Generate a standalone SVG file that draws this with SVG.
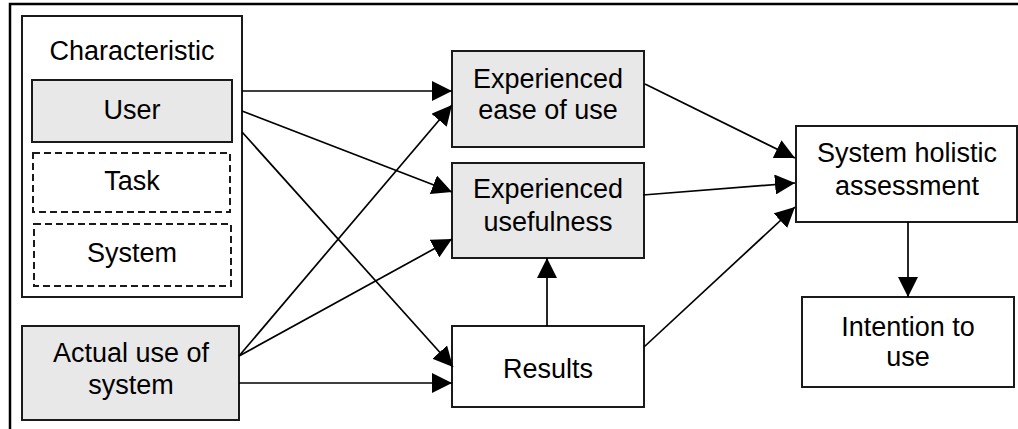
<svg xmlns="http://www.w3.org/2000/svg" width="1018" height="429" viewBox="0 0 1018 429">
  <defs>
    <style>
      .box { stroke: #1a1a1a; stroke-width: 2; fill: #ffffff; }
      .grey { fill: #e8e8e8; }
      .dash { stroke-dasharray: 7 4; fill: none; }
      .lbl { font-family: "Liberation Sans", Arial, sans-serif; font-size: 27px; fill: #000; text-anchor: middle; }
      .edge { stroke: #000; stroke-width: 1.7; fill: none; marker-end: url(#arrow); }
    </style>
    <marker id="arrow" markerUnits="userSpaceOnUse" markerWidth="20" markerHeight="20" refX="20" refY="10" orient="auto" viewBox="0 0 20 20">
      <path d="M0,0 L20,10 L0,20 z" fill="#000"/>
    </marker>
  </defs>
  <rect width="1018" height="429" fill="#ffffff"/>
  <rect x="10" y="4" width="1030" height="440" fill="none" stroke="#000" stroke-width="2.5"/>

  <g id="characteristic">
    <rect class="box" x="22" y="16" width="220" height="281"/>
    <text class="lbl" x="132" y="60">Characteristic</text>
  </g>
  <g id="user">
    <rect class="box grey" x="32" y="80" width="200" height="62"/>
    <text class="lbl" x="132" y="119">User</text>
  </g>
  <g id="task">
    <rect class="box dash" x="33" y="153" width="197" height="59"/>
    <text class="lbl" x="132" y="190">Task</text>
  </g>
  <g id="system">
    <rect class="box dash" x="34" y="224" width="197" height="62"/>
    <text class="lbl" x="132" y="262">System</text>
  </g>
  <g id="actual-use">
    <rect class="box grey" x="22" y="326" width="217" height="94"/>
    <text class="lbl" x="131" y="362">Actual use of</text>
    <text class="lbl" x="131" y="394">system</text>
  </g>
  <g id="ease-of-use">
    <rect class="box grey" x="452" y="51" width="192" height="96"/>
    <text class="lbl" x="548" y="88">Experienced</text>
    <text class="lbl" x="548" y="119">ease of use</text>
  </g>
  <g id="usefulness">
    <rect class="box grey" x="452" y="163" width="192" height="95"/>
    <text class="lbl" x="548" y="198">Experienced</text>
    <text class="lbl" x="548" y="231">usefulness</text>
  </g>
  <g id="results">
    <rect class="box" x="452" y="326" width="192" height="81"/>
    <text class="lbl" x="548" y="378">Results</text>
  </g>
  <g id="holistic">
    <rect class="box" x="796" y="126" width="221" height="96"/>
    <text class="lbl" x="907" y="162">System holistic</text>
    <text class="lbl" x="907" y="195">assessment</text>
  </g>
  <g id="intention">
    <rect class="box" x="802" y="297" width="212" height="90"/>
    <text class="lbl" x="908" y="336">Intention to</text>
    <text class="lbl" x="908" y="366">use</text>
  </g>

  <g id="connectors">
    <line class="edge" x1="242" y1="91" x2="452" y2="91"/>
    <line class="edge" x1="242" y1="111" x2="452" y2="192"/>
    <line class="edge" x1="242" y1="132" x2="453" y2="367"/>
    <line class="edge" x1="239" y1="356" x2="452" y2="105"/>
    <line class="edge" x1="239" y1="356" x2="452" y2="239"/>
    <line class="edge" x1="239" y1="383" x2="452" y2="383"/>
    <line class="edge" x1="547" y1="326" x2="547" y2="258"/>
    <line class="edge" x1="645" y1="84" x2="795" y2="158"/>
    <line class="edge" x1="643" y1="195" x2="795" y2="183"/>
    <line class="edge" x1="644" y1="347" x2="795" y2="207"/>
    <line class="edge" x1="908" y1="222" x2="908" y2="297"/>
  </g>
</svg>
